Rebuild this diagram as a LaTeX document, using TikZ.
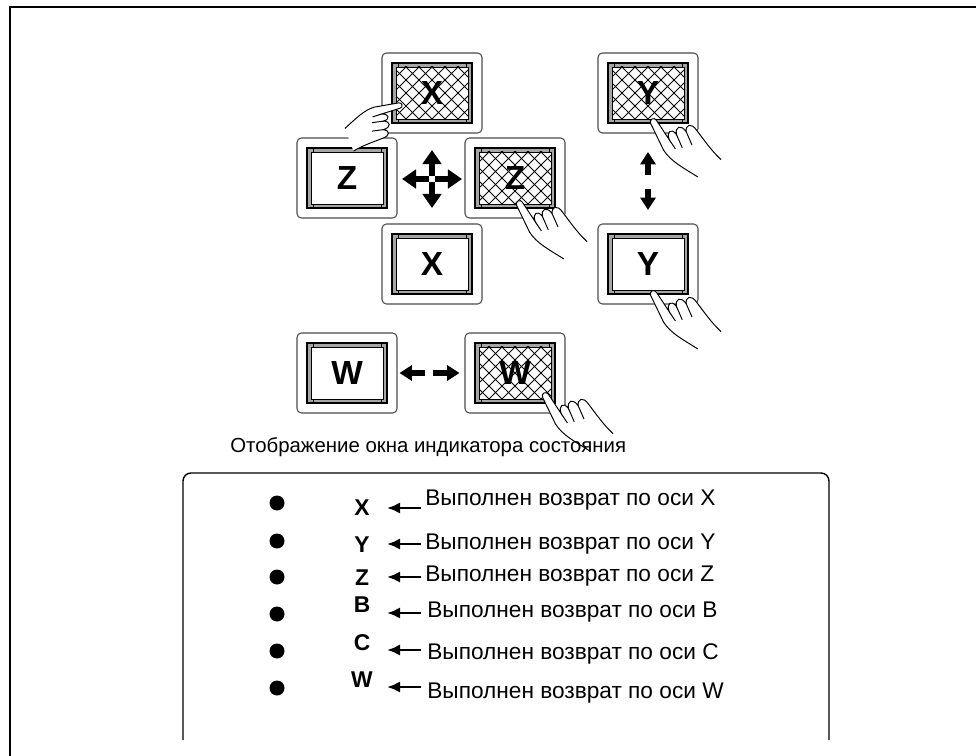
\documentclass[tikz,border=0pt]{standalone}
\usepackage{fontspec}
\setmainfont{Liberation Sans}
\usetikzlibrary{arrows.meta}

% outline of a pointing hand, fingertip at the origin, finger along +x
\newcommand\handedge{(-66,12) .. controls (-52,4) and (-42,-3) .. (-30,-4)
  -- (-3,-3) .. controls (1,-3) and (1,3) .. (-3,3) -- (-24,5)
  .. controls (-16,6) and (-15,12) .. (-23,13)
  .. controls (-16,15) and (-16,21) .. (-25,22)
  .. controls (-19,24) and (-19,30) .. (-28,31)
  .. controls (-40,33) and (-50,34) .. (-62,38)}

\tikzset{
  keyframe/.style={draw=black!70, line width=0.6pt, rounded corners=2.5pt,
    minimum width=2cm, minimum height=1.6cm, inner sep=0pt},
  keyletter/.style={font=\fontsize{19}{19}\selectfont\bfseries, inner sep=0pt},
  bigarrow/.style={line width=3.4pt, -{Triangle[width=10.5pt,length=8pt]}},
  midarrow/.style={line width=3.2pt, -{Triangle[width=8.5pt,length=7pt]}},
  ptr/.style={line width=1.7pt, -{Latex[width=6.5pt,length=7.5pt]}},
  statdot/.style={circle, fill=black, minimum size=0.3cm, inner sep=0pt},
  axisletter/.style={font=\fontsize{13}{13}\selectfont\bfseries, inner sep=0pt},
  note/.style={font=\fontsize{12.9}{14}\selectfont, anchor=west, inner sep=0pt},
  hand/.pic={
    \fill[white] \handedge -- cycle;
    \draw[line width=0.55pt] \handedge;
    % creases of the curled fingers
    \draw[line width=0.55pt] (-23,13) -- (-36,12) (-25,22) -- (-38,21) (-24,5) -- (-34,6);
  }
}

% #1 name, #2 centre, #3 letter, #4 1 = pressed (hatched)
\newcommand\keybtn[4]{%
  \begin{scope}[shift={(#2)}]
    \node[keyframe] (#1) at (0,0) {};
    \draw[line width=1pt, fill=black!35] (-40,-30) rectangle (40,30);
    \draw[line width=0.5pt, fill=white] (-36,-26) rectangle (36,26);
    \ifnum#4=1
      \begin{scope}
        \clip (-36,-26) rectangle (36,26);
        \foreach \d in {-78,-65,...,78} {
          \draw[line width=0.45pt] (\d-30,-30) -- (\d+30,30);
          \draw[line width=0.45pt] (\d+30,-30) -- (\d-30,30);
        }
      \end{scope}
    \fi
    % little ticks across the frame band
    \foreach \sx in {-1,1}
      \foreach \sy in {-1,1}
        \draw[line width=0.4pt] (\sx*34,\sy*26) -- (\sx*34,\sy*30);
    \node[keyletter] (#1-txt) at (0,0) {#3};
  \end{scope}}

\begin{document}
\begin{tikzpicture}[x=0.02cm, y=-0.02cm]
  \useasboundingbox (0,0) rectangle (976,756);
  \draw[line width=1.4pt] (10,756) -- (10,7) -- (976,7);

  % keys
  \keybtn{xup}{432,93}{X}{1}
  \keybtn{zleft}{347,178}{Z}{0}
  \keybtn{zright}{515,178}{Z}{1}
  \keybtn{xdown}{432,264}{X}{0}
  \keybtn{yup}{648,93}{Y}{1}
  \keybtn{ydown}{648,264}{Y}{0}
  \keybtn{wleft}{347,373}{W}{0}
  \keybtn{wright}{515,373}{W}{1}

  % four-way arrow
  \coordinate (mv) at (432,179);
  \coordinate (mvN) at (432,150);
  \coordinate (mvS) at (432,208);
  \coordinate (mvW) at (402,179);
  \coordinate (mvE) at (462,179);
  \foreach \e in {mvN,mvS,mvW,mvE}
    \draw[bigarrow, shorten <=0.06cm] (mv) -- (\e);

  % up / down arrows between the Y keys
  \coordinate (ymid1) at (648,175);
  \coordinate (ytip1) at (648,152);
  \coordinate (ymid2) at (648,189);
  \coordinate (ytip2) at (648,210);
  \draw[midarrow] (ymid1) -- (ytip1);
  \draw[midarrow] (ymid2) -- (ytip2);

  % left / right arrows between the W keys
  \coordinate (wmid) at (429,373);
  \draw[midarrow, shorten <=0.08cm, shorten >=0.04cm] (wmid) -- (wleft.east);
  \draw[midarrow, shorten <=0.08cm, shorten >=0.1cm] (wmid) -- (wright.west);

  % pointing hands
  \pic[rotate=12, scale=0.92] at (402,105) {hand};
  \pic[rotate=118, scale=1.1] at (518,201) {hand};
  \pic[rotate=118, scale=1.1] at (652,119) {hand};
  \pic[rotate=118, scale=1.1] at (652,291) {hand};
  \pic[rotate=118, scale=1.1] at (544,393) {hand};

  % status window
  \node[note, font=\fontsize{11.6}{14}\selectfont] (title) at (230,447) {Отображение окна индикатора состояния};
  \draw[line width=0.8pt, rounded corners=0.16cm] (183,740) -- (183,473) -- (829,473) -- (829,740);

  \foreach \t/\dy/\ly/\ay/\ty/\tx [count=\i] in
      {X/503/508/508/500/425, Y/541/545/544/544/425, Z/577/578/577/576/425,
       B/614/605/613/612/427, C/651/643/650/654/427, W/688/680/687/693/427} {
    \node[statdot] (dot\i) at (277,\dy) {};
    \node[axisletter] (ax\i) at (362,\ly) {\t};
    \coordinate (tail\i) at (421,\ay);
    \coordinate (tip\i) at (387,\ay);
    \draw[ptr] (tail\i) -- (tip\i);
    \node[note] (msg\i) at (\tx,\ty) {Выполнен возврат по оси \t};
  }
\end{tikzpicture}
\end{document}
